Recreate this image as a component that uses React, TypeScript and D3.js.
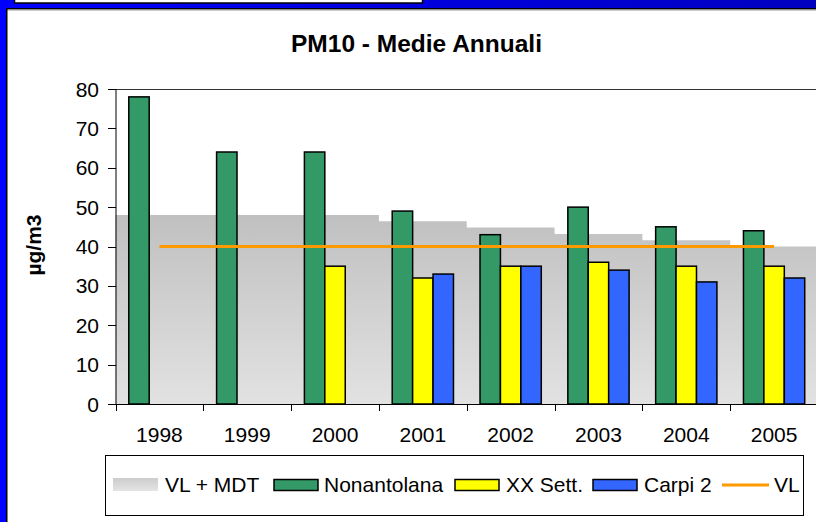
import React from "react";
import * as d3 from "d3";

const years = ["1998", "1999", "2000", "2001", "2002", "2003", "2004", "2005"];
const vlMdt = [48, 48, 48, 46.4, 44.8, 43.2, 41.6, 40];
const nonantolana: (number | null)[] = [78, 64, 64, 49, 43, 50, 45, 44];
const xxSett: (number | null)[] = [null, null, 35, 32, 35, 36, 35, 35];
const carpi2: (number | null)[] = [null, null, null, 33, 35, 34, 31, 32];
const vlValue = 40;
const yTicks = [0, 10, 20, 30, 40, 50, 60, 70, 80];

const seriesNames = ["Nonantolana", "XX Sett.", "Carpi 2"];
const seriesValues = [nonantolana, xxSett, carpi2];
const seriesColors = ["#339966", "#FFFF00", "#3366FF"];

const W = 816;
const H = 522;
const FONT = "'Liberation Sans', Arial, sans-serif";

export default function App() {
  const x = d3.scaleBand<string>().domain(years).range([115.5, 818]).padding(0);
  const inner = d3
    .scaleBand<string>()
    .domain(seriesNames)
    .range([0, x.bandwidth()])
    .paddingInner(0)
    .paddingOuter(0.65);
  const y = d3.scaleLinear().domain([0, 80]).range([404, 89]);

  // stepped area for VL + MDT
  const areaPts: [number, number][] = [];
  years.forEach((yr, i) => {
    const x0 = x(yr)!;
    const x1 = x0 + x.step();
    areaPts.push([x0, vlMdt[i]]);
    areaPts.push([x1, vlMdt[i]]);
  });
  const area = d3
    .area<[number, number]>()
    .x((d) => d[0])
    .y0(y(0))
    .y1((d) => y(d[1]));

  const vlLine = d3
    .line<string>()
    .x((d) => x(d)! + x.bandwidth() / 2)
    .y(() => y(vlValue));

  const legendY = 485;
  const legendItems = [
    { kind: "area", label: "VL + MDT", sx: 113, tx: 165 },
    { kind: "bar", label: seriesNames[0], color: seriesColors[0], sx: 274, tx: 324 },
    { kind: "bar", label: seriesNames[1], color: seriesColors[1], sx: 455, tx: 506 },
    { kind: "bar", label: seriesNames[2], color: seriesColors[2], sx: 593, tx: 644 },
    { kind: "line", label: "VL", sx: 722, tx: 774 },
  ];

  return (
    <svg
      width={W}
      height={H}
      style={{ position: "absolute", left: 0, top: 0, display: "block" }}
      fontFamily={FONT}
    >
      <defs>
        <linearGradient id="topBlue" x1="0" x2="1" y1="0" y2="0">
          <stop offset="0" stopColor="#0000FF" />
          <stop offset="1" stopColor="#0000C0" />
        </linearGradient>
        <linearGradient id="greyArea" gradientUnits="userSpaceOnUse" x1="0" x2="0" y1={y(48)} y2={y(0)}>
          <stop offset="0" stopColor="#C0C0C0" />
          <stop offset="1" stopColor="#E2E2E2" />
        </linearGradient>
        <linearGradient id="greySwatch" x1="0" x2="0" y1="0" y2="1">
          <stop offset="0" stopColor="#CCCCCC" />
          <stop offset="1" stopColor="#E4E4E4" />
        </linearGradient>
      </defs>

      {/* background frame */}
      <rect x={0} y={0} width={W} height={H} fill="#FFFFFF" />
      <rect x={0} y={0} width={W} height={9} fill="url(#topBlue)" />
      <rect x={0} y={0} width={7} height={H} fill="#0000FF" />
      <rect x={6} y={8} width={W} height={1.5} fill="#000000" />
      <rect x={6} y={9.5} width={W} height={1} fill="#999999" />
      <rect x={6} y={8} width={1.5} height={H} fill="#000000" />
      <rect x={14.5} y={-3} width={408} height={6} fill="#FFFFFF" stroke="#000" strokeWidth={1.5} />

      {/* title */}
      <text x={416.5} y={52} textAnchor="middle" fontWeight="bold" fontSize={24.5} fill="#000">
        PM10 - Medie Annuali
      </text>

      {/* VL + MDT stepped area */}
      <path d={area(areaPts) || ""} fill="url(#greyArea)" />

      {/* top border of plot area */}
      <line x1={115.5} x2={W} y1={y(80) + 0.5} y2={y(80) + 0.5} stroke="#333" strokeWidth={1} />

      {/* bars */}
      {seriesValues.map((vals, si) =>
        vals.map((v, i) =>
          v == null ? null : (
            <rect
              key={`${si}-${i}`}
              x={x(years[i])! + inner(seriesNames[si])!}
              y={y(v)}
              width={inner.bandwidth()}
              height={y(0) - y(v)}
              fill={seriesColors[si]}
              stroke="#000"
              strokeWidth={1.5}
            />
          )
        )
      )}

      {/* VL line */}
      <path d={vlLine(years) || ""} stroke="#FF9900" strokeWidth={3} fill="none" />

      {/* y axis */}
      <line x1={116} x2={116} y1={y(80)} y2={y(0)} stroke="#000" strokeWidth={1} />
      {yTicks.map((t) => (
        <g key={t}>
          <line x1={108} x2={116} y1={Math.round(y(t)) + 0.5} y2={Math.round(y(t)) + 0.5} stroke="#000" strokeWidth={1} />
          <text x={99} y={y(t)} dy="0.36em" textAnchor="end" fontSize={21} fill="#000">
            {t}
          </text>
        </g>
      ))}

      {/* x axis */}
      <line x1={116} x2={W} y1={y(0) + 0.5} y2={y(0) + 0.5} stroke="#000" strokeWidth={1} />
      {years.map((yr) => (
        <g key={yr}>
          <line x1={Math.round(x(yr)!) + 0.5} x2={Math.round(x(yr)!) + 0.5} y1={y(0)} y2={y(0) + 7} stroke="#000" strokeWidth={1} />
          <text x={x(yr)! + x.bandwidth() / 2} y={442} textAnchor="middle" fontSize={21} fill="#000">
            {yr}
          </text>
        </g>
      ))}

      {/* y axis label */}
      <text
        transform={`translate(41,245) rotate(-90)`}
        textAnchor="middle"
        fontWeight="bold"
        fontSize={21}
        fill="#000"
      >
        µg/m3
      </text>

      {/* legend */}
      <rect x={105.5} y={455.5} width={698} height={60} fill="#FFFFFF" stroke="#000" strokeWidth={1} />
      {legendItems.map((it) => (
        <g key={it.label}>
          {it.kind === "area" && (
            <rect x={it.sx} y={legendY - 7} width={45} height={13} fill="url(#greySwatch)" />
          )}
          {it.kind === "bar" && (
            <rect x={it.sx} y={legendY - 5.5} width={44} height={11} fill={it.color} stroke="#000" strokeWidth={1.5} />
          )}
          {it.kind === "line" && (
            <line x1={it.sx} x2={it.sx + 47} y1={legendY} y2={legendY} stroke="#FF9900" strokeWidth={3} />
          )}
          <text x={it.tx} y={legendY + 6.5} fontSize={21} fill="#000">
            {it.label}
          </text>
        </g>
      ))}
    </svg>
  );
}
